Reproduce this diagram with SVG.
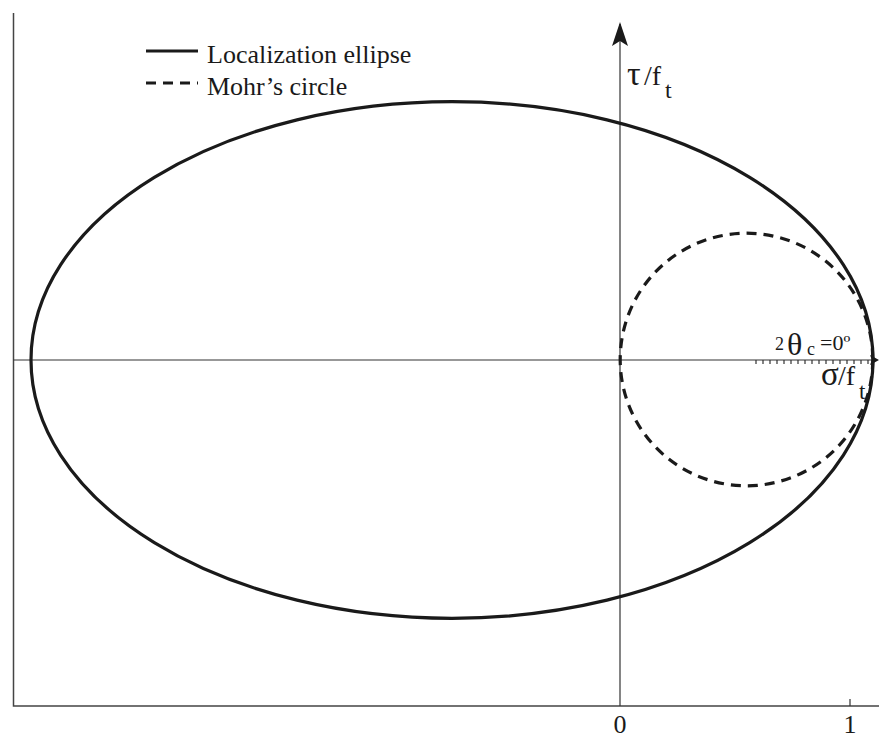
<svg xmlns="http://www.w3.org/2000/svg" width="879" height="738" viewBox="0 0 879 738">
<style>
.ax{stroke:#444;stroke-width:1.5;fill:none}
.thin{stroke:#333;stroke-width:1.2;fill:none}
.curve{stroke:#1a1a1a;stroke-width:3.2;fill:none}
.dash{stroke-dasharray:10 7}
.t{font-family:'Liberation Serif','Times New Roman','DejaVu Serif',serif;fill:#1a1a1a}
.g{font-family:'Liberation Serif','DejaVu Serif',serif;fill:#1a1a1a}
</style>
<rect width="879" height="738" fill="#fff"/>
<g id="connectors">
<path class="ax" d="M13.5,13 L13.5,706 L879,706"/>
<line class="thin" x1="620" y1="706" x2="620" y2="24"/>
<path d="M620,22 L628,46 L620,41 L612,46 Z" fill="#1a1a1a"/>
<line class="thin" x1="13.5" y1="360" x2="872" y2="360"/>
<path d="M879,360 L870,355 L872,360 L870,365 Z" fill="#1a1a1a"/>
<line class="thin" x1="850" y1="706" x2="850" y2="699"/>
<path class="thin" stroke-width="1" d="M756,360v4M763,360v4M770,360v4M777,360v4M784,360v4M791,360v4M798,360v4M805,360v4M812,360v4M819,360v4M826,360v4M833,360v4M840,360v4M847,360v4M854,360v4M861,360v4M868,360v4"/>
</g>
<g id="ellipse">
<ellipse class="curve" cx="452" cy="360" rx="421" ry="258.3"/>
</g>
<g id="mohr">
<circle class="curve dash" cx="746.5" cy="359.5" r="126.3"/>
</g>
<g id="legend">
<line class="curve" x1="146" y1="51" x2="198" y2="51"/>
<text class="t" x="207" y="63" font-size="26">Localization ellipse</text>
<line class="curve dash" x1="146" y1="83" x2="198" y2="83"/>
<text class="t" x="207" y="95" font-size="26">Mohr’s circle</text>
</g>
<g id="labels">
<text class="g" x="627" y="85" font-size="34">τ</text>
<text class="t" x="644" y="85" font-size="28">/f</text>
<text class="t" x="665" y="98" font-size="24">t</text>
<text class="t" x="775" y="350" font-size="18">2</text>
<text class="g" x="787" y="355" font-size="32">θ</text>
<text class="t" x="807" y="355" font-size="18">c</text>
<text class="t" x="820" y="350" font-size="22">=0º</text>
<text class="g" x="821" y="385" font-size="33">σ</text>
<text class="t" x="838" y="385" font-size="28">/f</text>
<text class="t" x="859" y="399" font-size="23">t</text>
<text class="t" x="620" y="733" font-size="26" text-anchor="middle">0</text>
<text class="t" x="850" y="733" font-size="26" text-anchor="middle">1</text>
</g>
</svg>
